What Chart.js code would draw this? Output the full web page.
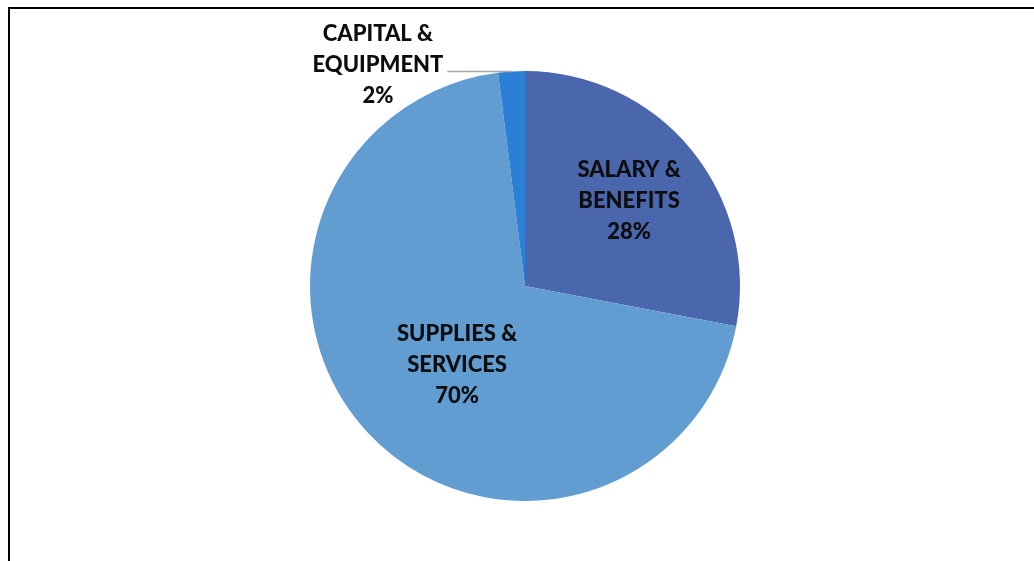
<!DOCTYPE html>
<html>
<head>
<meta charset="utf-8">
<script src="https://cdn.jsdelivr.net/npm/chart.js@4/dist/chart.umd.min.js"></script>
<style>
  html, body { margin: 0; padding: 0; background: #ffffff; }
  #wrap { position: relative; width: 1034px; height: 561px; }
</style>
</head>
<body>
<div id="wrap"><canvas id="c" width="1034" height="561"></canvas></div>
<script>
// Budget split by spending category
const categories = [["SALARY &", "BENEFITS"], ["SUPPLIES &", "SERVICES"], ["CAPITAL &", "EQUIPMENT"]];
const shares = [28, 70, 2];
const sliceColors = ["#4A66AC", "#629DD1", "#2B7FD6"];

// Where each label block sits, as a fraction of the radius from the centre
const labelPlacement = [
  { dx: 0.484, dy: -0.395, leader: false },
  { dx: -0.316, dy: 0.367, leader: false },
  { dx: -0.684, dy: -1.027, leader: true }
];

const frame = {
  id: "frame",
  beforeDraw(chart) {
    const ctx = chart.ctx;
    ctx.save();
    ctx.fillStyle = "#000000";
    ctx.fillRect(8, 7, chart.width - 8, 2);
    ctx.fillRect(8, 7, 2, chart.height - 7);
    ctx.restore();
  }
};

const sliceLabels = {
  id: "sliceLabels",
  afterDatasetsDraw(chart) {
    const ctx = chart.ctx;
    const meta = chart.getDatasetMeta(0);
    const total = shares.reduce((a, b) => a + b, 0);
    ctx.save();
    ctx.font = "900 22px Lato, 'Open Sans', sans-serif";
    ctx.fillStyle = "#0D0D0D";
    ctx.textAlign = "center";
    ctx.textBaseline = "middle";
    const lineH = 31;
    meta.data.forEach((arc, i) => {
      const r = arc.outerRadius;
      const cx = arc.x, cy = arc.y;
      const p = labelPlacement[i];
      const lx = cx + p.dx * r;
      const ly = cy + p.dy * r;
      const lines = categories[i].concat([Math.round(shares[i] / total * 100) + "%"]);
      const top = ly - (lines.length - 1) * lineH / 2;
      if (p.leader) {
        const mid = (arc.startAngle + arc.endAngle) / 2;
        const ex = cx + Math.cos(mid) * r;
        const ey = cy + Math.sin(mid) * r;
        const half = ctx.measureText(lines[1]).width / 2;
        ctx.save();
        ctx.strokeStyle = "#A6A6A6";
        ctx.lineWidth = 1.5;
        ctx.beginPath();
        ctx.moveTo(lx + half + 4, ey);
        ctx.lineTo(ex, ey);
        ctx.stroke();
        ctx.restore();
      }
      lines.forEach((t, k) => ctx.fillText(t, lx, top + k * lineH));
    });
    ctx.restore();
  }
};

new Chart(document.getElementById("c"), {
  type: "pie",
  data: {
    labels: categories.map(c => c.join(" ")),
    datasets: [{
      data: shares,
      backgroundColor: sliceColors,
      borderWidth: 0
    }]
  },
  options: {
    responsive: false,
    animation: false,
    layout: { padding: { left: 310, right: 294, top: 71, bottom: 60 } },
    plugins: {
      legend: { display: false },
      tooltip: { enabled: false }
    }
  },
  plugins: [frame, sliceLabels]
});
</script>
</body>
</html>
